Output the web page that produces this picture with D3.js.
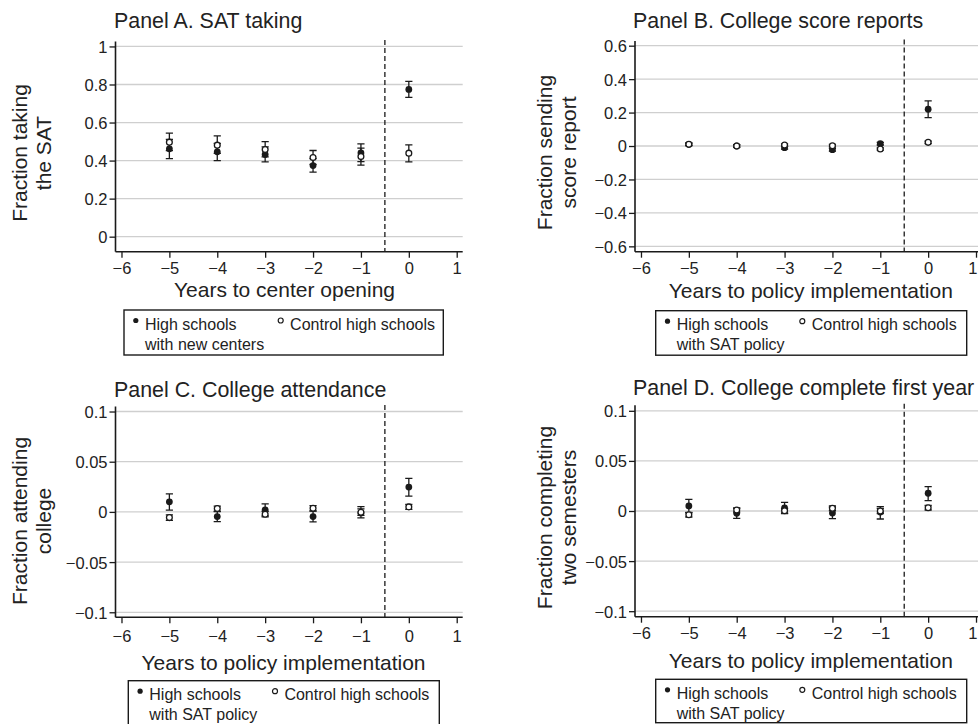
<!DOCTYPE html>
<html><head><meta charset="utf-8">
<script src="https://cdn.jsdelivr.net/npm/d3@7"></script>
<style>
html,body{margin:0;padding:0;background:#fff;}
svg{display:block;}
text{font-family:"Liberation Sans",Arial,Helvetica,sans-serif;fill:#222;}
</style></head><body>
<svg id="chart" width="978" height="724"></svg>
<script>
// ---------- data ----------
const years = [-5, -4, -3, -2, -1, 0];
const xTicks = [-6, -5, -4, -3, -2, -1, 0, 1];

// Panel A. SAT taking
const aTreat   = [0.462, 0.446, 0.432, 0.374, 0.440, 0.774];
const aTreatLo = [0.410, 0.400, 0.393, 0.339, 0.395, 0.732];
const aTreatHi = [0.512, 0.490, 0.472, 0.410, 0.488, 0.816];
const aCtrl    = [0.497, 0.481, 0.458, 0.416, 0.421, 0.439];
const aCtrlLo  = [0.452, 0.438, 0.420, 0.380, 0.376, 0.393];
const aCtrlHi  = [0.544, 0.530, 0.500, 0.453, 0.466, 0.483];
const aTicks   = [0, 0.2, 0.4, 0.6, 0.8, 1];

// Panel B. College score reports
const bTreat   = [0.010, 0.000, -0.010, -0.022, 0.014, 0.220];
const bTreatLo = [0.002, -0.008, -0.018, -0.030, 0.006, 0.170];
const bTreatHi = [0.018, 0.008, -0.002, -0.014, 0.022, 0.270];
const bCtrl    = [0.010, 0.000, 0.006, 0.002, -0.018, 0.022];
const bCtrlLo  = [0.003, -0.007, -0.001, -0.005, -0.025, 0.015];
const bCtrlHi  = [0.017, 0.007, 0.013, 0.009, -0.011, 0.029];
const bTicks   = [-0.6, -0.4, -0.2, 0, 0.2, 0.4, 0.6];

// Panel C. College attendance
const cTreat   = [0.0100, -0.0047, 0.0020, -0.0047, -0.0010, 0.0247];
const cTreatLo = [0.0017, -0.0097, -0.0040, -0.0100, -0.0060, 0.0157];
const cTreatHi = [0.0180, 0.0003, 0.0080, 0.0007, 0.0053, 0.0333];
const cCtrl    = [-0.0057, 0.0033, -0.0023, 0.0037, -0.0003, 0.0050];
const cCtrlLo  = [-0.0085, 0.0008, -0.0050, 0.0010, -0.0035, 0.0025];
const cCtrlHi  = [-0.0030, 0.0058, 0.0005, 0.0063, 0.0030, 0.0075];
const cTicks   = [-0.1, -0.05, 0, 0.05, 0.1];

// Panel D. College complete first year
const dTreat   = [0.0050, -0.0023, 0.0030, -0.0020, -0.0010, 0.0177];
const dTreatLo = [-0.0017, -0.0073, -0.0027, -0.0077, -0.0080, 0.0103];
const dTreatHi = [0.0117, 0.0027, 0.0087, 0.0037, 0.0043, 0.0243];
const dCtrl    = [-0.0037, 0.0010, 0.0003, 0.0027, 0.0000, 0.0033];
const dCtrlLo  = [-0.0060, -0.0012, -0.0020, 0.0005, -0.0025, 0.0010];
const dCtrlHi  = [-0.0015, 0.0032, 0.0025, 0.0050, 0.0025, 0.0055];
const dTicks   = [-0.1, -0.05, 0, 0.05, 0.1];

const yTickFmt = v => {
  if (v === 0) return "0";
  const s = String(Math.abs(+v.toFixed(3)));
  return (v < 0 ? "\u2212" : "") + s;
};
const xTickFmt = v => (v < 0 ? "\u2212" + Math.abs(v) : String(v));

// ---------- layout (styles / positions) ----------
const panels = [
  {title: "Panel A. SAT taking", ylab: ["Fraction taking", "the SAT"], xlab: "Years to center opening",
   treat: aTreat, tLo: aTreatLo, tHi: aTreatHi, ctrl: aCtrl, cLo: aCtrlLo, cHi: aCtrlHi, yTicks: aTicks,
   xr: [115.5, 462.7], xd: [-6.125, 1.125], yr: [251.7, 41.5], yd: [-0.079, 1.026],
   titleX: 114, titleY: 28, ylabCY: 153, ylabX: 27, xlabX: 284.5, xlabY: 297, tickDY: 22,
   leg: {x: 124, y: 310, w: 319.3, h: 45, line2: "with new centers", c2: 156.7}},
  {title: "Panel B. College score reports", ylab: ["Fraction sending", "score report"], xlab: "Years to policy implementation",
   treat: bTreat, tLo: bTreatLo, tHi: bTreatHi, ctrl: bCtrl, cLo: bCtrlLo, cHi: bCtrlHi, yTicks: bTicks,
   xr: [635, 982], xd: [-6.125, 1.125], yr: [251.7, 41], yd: [-0.632, 0.628],
   titleX: 633, titleY: 28, ylabCY: 152.5, ylabX: 551.5, xlabX: 810.8, xlabY: 298, tickDY: 22,
   leg: {x: 655.7, y: 310.7, w: 311, h: 44.5, line2: "with SAT policy", c2: 146.6}},
  {title: "Panel C. College attendance", ylab: ["Fraction attending", "college"], xlab: "Years to policy implementation",
   treat: cTreat, tLo: cTreatLo, tHi: cTreatHi, ctrl: cCtrl, cLo: cCtrlLo, cHi: cCtrlHi, yTicks: cTicks,
   xr: [115.5, 462.7], xd: [-6.125, 1.125], yr: [617.3, 406.5], yd: [-0.105, 0.105],
   titleX: 114, titleY: 397, ylabCY: 521, ylabX: 27, xlabX: 283.5, xlabY: 669.5, tickDY: 24.4,
   leg: {x: 128.3, y: 680.7, w: 311, h: 50, line2: "with SAT policy", c2: 146.7}},
  {title: "Panel D. College complete first year", ylab: ["Fraction completing", "two semesters"], xlab: "Years to policy implementation",
   treat: dTreat, tLo: dTreatLo, tHi: dTreatHi, ctrl: dCtrl, cLo: dCtrlLo, cHi: dCtrlHi, yTicks: dTicks,
   xr: [635, 982], xd: [-6.125, 1.125], yr: [616.7, 405.3], yd: [-0.1055, 0.1055],
   titleX: 633, titleY: 395, ylabCY: 517.5, ylabX: 551.5, xlabX: 810.8, xlabY: 668, tickDY: 22.3,
   leg: {x: 655.7, y: 679.3, w: 311, h: 43.4, line2: "with SAT policy", c2: 146.6}}
];

const W = 978;
const svg = d3.select("#chart");
const INK = "#1a1a1a";

panels.forEach(p => {
  const g = svg.append("g");
  const x = d3.scaleLinear().domain(p.xd).range(p.xr);
  const y = d3.scaleLinear().domain(p.yd).range(p.yr);
  const [x0, x1] = p.xr, [yb, yt] = p.yr;

  // gridlines
  g.append("g").selectAll("line").data(p.yTicks).join("line")
    .attr("x1", x0).attr("x2", x1).attr("y1", d => y(d)).attr("y2", d => y(d))
    .attr("stroke", "#cfcfcf").attr("stroke-width", 1.3);

  // dashed vertical
  g.append("line").attr("x1", x(-0.5)).attr("x2", x(-0.5)).attr("y1", yt - 1.5).attr("y2", yb)
    .attr("stroke", INK).attr("stroke-width", 1.3).attr("stroke-dasharray", "5,3");

  // axes
  const yAxis = d3.axisLeft(y).tickValues(p.yTicks).tickFormat(yTickFmt).tickSize(6).tickPadding(2);
  const ya = g.append("g").attr("transform", `translate(${x0},0)`).call(yAxis);
  const xAxis = d3.axisBottom(x).tickValues(xTicks).tickFormat(xTickFmt).tickSize(6).tickPadding(0);
  const xa = g.append("g").attr("transform", `translate(0,${yb})`).call(xAxis);
  [ya, xa].forEach(a => {
    a.select(".domain").attr("stroke", INK).attr("stroke-width", 1.6);
    a.selectAll(".tick line").attr("stroke", INK).attr("stroke-width", 1.3);
    a.selectAll(".tick text").attr("fill", "#222").style("font-size", "16.5px")
      .style("font-family", '"Liberation Sans",Arial,sans-serif');
  });
  ya.select(".domain").attr("d", `M0,${yb}V${yt}`);
  xa.select(".domain").attr("d", `M${x0},0H${x1}`);
  ya.selectAll(".tick text").attr("dy", "0.36em");
  xa.selectAll(".tick text").attr("y", p.tickDY).attr("dy", null);
  // keep a tick label that would fall past the right page edge inside it
  xa.selectAll(".tick").each(function (d) {
    if (x(d) + 5 > W) {
      d3.select(this).select("text").attr("text-anchor", "end").attr("x", W - 1 - x(d));
    }
  });

  // title
  g.append("text").attr("x", p.titleX).attr("y", p.titleY).style("font-size", "21.4px").text(p.title);
  // y label
  const yl = g.append("text").attr("transform", `translate(${p.ylabX},${p.ylabCY}) rotate(-90)`)
    .attr("text-anchor", "middle").style("font-size", "21px");
  yl.append("tspan").attr("x", 0).attr("y", 0).text(p.ylab[0]);
  yl.append("tspan").attr("x", 0).attr("y", 24).text(p.ylab[1]);
  // x label
  g.append("text").attr("x", p.xlabX).attr("y", p.xlabY).attr("text-anchor", "middle")
    .style("font-size", "21px").text(p.xlab);

  // error bars
  const cap = 3.6;
  const drawErr = (lo, hi) => {
    const eg = g.append("g").attr("stroke", INK).attr("stroke-width", 1.3).attr("fill", "none");
    eg.selectAll("path").data(years).join("path")
      .attr("d", (d, i) => {
        const cx = x(d), a = y(lo[i]), b = y(hi[i]);
        return `M${cx},${a}V${b}M${cx - cap},${a}H${cx + cap}M${cx - cap},${b}H${cx + cap}`;
      });
  };
  drawErr(p.tLo, p.tHi);
  drawErr(p.cLo, p.cHi);

  // markers
  g.append("g").selectAll("circle").data(years).join("circle")
    .attr("cx", d => x(d)).attr("cy", (d, i) => y(p.treat[i])).attr("r", 3.4).attr("fill", INK);
  g.append("g").selectAll("circle").data(years).join("circle")
    .attr("cx", d => x(d)).attr("cy", (d, i) => y(p.ctrl[i])).attr("r", 2.9)
    .attr("fill", "#fff").attr("stroke", INK).attr("stroke-width", 1.3);

  // legend
  const L = p.leg;
  const lg = g.append("g").attr("transform", `translate(${L.x},${L.y})`);
  lg.append("rect").attr("x", 0).attr("y", 0).attr("width", L.w).attr("height", L.h)
    .attr("fill", "none").attr("stroke", INK).attr("stroke-width", 1.4);
  lg.append("circle").attr("cx", 11.8).attr("cy", 10.5).attr("r", 2.6).attr("fill", INK);
  lg.append("text").attr("x", 21).attr("y", 19.5).style("font-size", "16px").text("High schools");
  lg.append("text").attr("x", 21).attr("y", 39.5).style("font-size", "16px").text(L.line2);
  lg.append("circle").attr("cx", L.c2).attr("cy", 10.5).attr("r", 2.5)
    .attr("fill", "#fff").attr("stroke", INK).attr("stroke-width", 1.2);
  lg.append("text").attr("x", L.c2 + 9.4).attr("y", 19.5).style("font-size", "16px").text("Control high schools");
});
</script>
</body></html>
